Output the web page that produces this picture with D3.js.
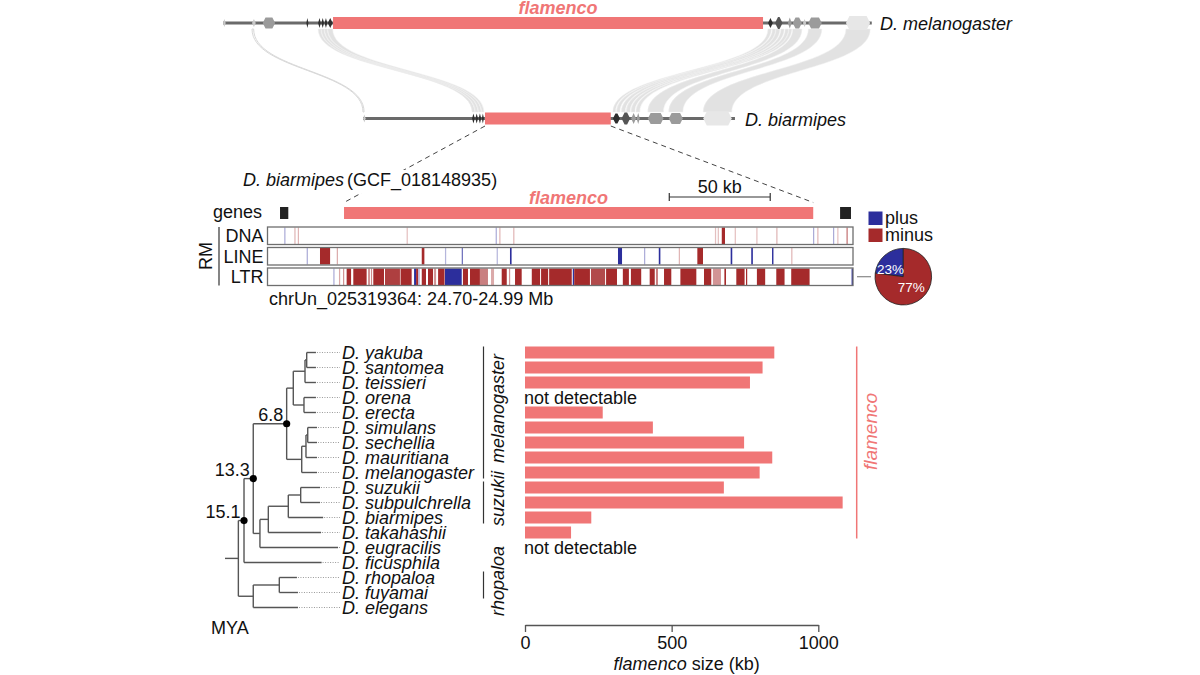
<!DOCTYPE html>
<html><head><meta charset="utf-8">
<script src="https://cdn.jsdelivr.net/npm/d3@7"></script>
<style>
body{margin:0;background:#fff}
svg{display:block}
text{font-family:"Liberation Sans",Arial,Helvetica,sans-serif;fill:#111}
</style>
</head><body>
<svg id="c" width="1200" height="675"></svg>
<script>
// ---------------- DATA ----------------
// Synteny panel (kb along each locus)
const melLen = 1207, biaLen = 692;
const melFlam = [204.7, 1004.7];
const biaFlam = [227, 461];
const melGenes = [[0,5,"light"],[54,61,"light"],[74,97,"mid"],[155,159,"dark"],
  [177,182,"dark"],[183,188,"dark"],[189,194,"dark"],[195,204,"dark"],
  [1014,1023,"dark"],[1027,1041,"dark2"],[1051,1058,"mid"],[1060,1077,"mid"],
  [1079,1085,"light"],[1089,1114,"mid"],[1159,1204,"pale"]];
const biaGenes = [[0,5,"light"],[203,208,"dark"],[209,214,"dark"],[215,220,"dark"],[221,225,"dark"],
  [465,478,"dark"],[481,497,"dark2"],[499,508,"mid"],[509,515,"mid"],
  [530,559,"mid"],[569,595,"mid"],[633,686,"pale"]];
// links: [mel start, mel end, bia start, bia end]
const synLinks = [[54,57,0,2],
  [177,182,203,208],[183,188,209,214],[189,194,215,220],[195,204,221,225],
  [1014,1020,465,470],[1022,1028,472,478],[1029,1036,481,488],[1038,1044,490,497],
  [1046,1052,499,506],[1053,1058,508,515],[1060,1077,530,559],[1089,1114,569,595],[1159,1204,633,686]];

// RepeatMasker panel (kb from 24.70 Mb)
const rmLen = 290;
const rmGenes = [[6.2,10.3],[283.6,289.0]];
const rmFlam = [37.9, 270.3];
const scaleBarStart = 199, scaleBarKb = 50;
// [start, end, strand, score]
const dnaHits = [[8.3,8.9,"+",0.4],[13.3,13.9,"-",0.35],[15.0,15.6,"-",0.35],[68.9,69.5,"-",0.3],
  [113.0,113.6,"+",0.4],[114.8,115.4,"-",0.35],[121.7,122.3,"-",0.35],[221.6,222.2,"-",0.3],
  [223.0,223.6,"-",0.3],[225.0,226.6,"-",1],[231.4,232.0,"-",0.3],[242.1,242.7,"-",0.3],
  [252.0,252.6,"-",0.35],[270.2,270.8,"+",0.4],[272.3,272.9,"-",0.35],[280.1,280.7,"+",0.4],
  [282.2,282.8,"-",0.3],[286.7,287.5,"-",0.5]];
const lineHits = [[19.4,20.0,"+",0.4],[26.0,31.0,"-",1],[34.3,34.9,"-",0.4],[76.4,77.7,"-",1],
  [87.9,88.5,"+",0.35],[96.2,96.8,"+",0.7],[113.5,114.1,"+",0.35],[120.1,120.9,"+",1],
  [173.6,175.6,"+",1],[186.5,187.1,"+",0.4],[193.8,194.6,"+",1],[203.7,204.3,"-",0.35],
  [212.9,215.7,"-",1],[229.4,230.2,"+",1],[239.6,240.4,"+",1],[249.9,250.6,"+",1],[259.4,260.0,"-",0.35]];
const ltrHits = [[32.6,33.2,"+",0.4],[35.4,36.0,"-",0.4],[37.4,38.0,"-",0.5],[39.2,41.4,"-",1],
  [42.5,49.1,"-",1],[49.8,50.8,"-",0.5],[51.3,51.8,"-",0.6],[52.4,57.7,"-",1],[58.2,65.6,"-",0.9],
  [65.9,71.4,"-",1],[72.6,73.6,"+",1],[73.6,74.6,"-",1],[74.8,75.3,"+",0.5],[76.4,78.5,"-",1],
  [79.5,82.0,"-",1],[82.5,83.5,"-",0.5],[84.5,87.7,"-",1],[87.9,96.2,"+",1],[96.8,99.3,"-",1],
  [100.3,105.2,"-",1],[105.2,109.2,"-",0.6],[110.7,112.2,"-",0.4],[116.0,118.5,"-",1],
  [119.6,120.2,"-",0.5],[122.6,125.9,"-",1],[130.9,135.0,"-",1],[135.5,139.0,"-",1],
  [139.5,150.7,"-",1],[151.9,159.7,"-",1],[151.2,151.8,"+",1],[160.2,167.2,"-",0.85],
  [167.7,173.1,"-",1],[176.0,179.0,"-",1],[180.0,185.1,"-",1],[189.3,191.8,"-",1],
  [192.4,193.4,"-",0.6],[196.4,200.0,"-",1],[204.5,212.4,"-",1],[216.2,219.8,"-",1],
  [220.6,224.6,"-",0.5],[226.3,227.1,"-",1],[232.2,236.3,"-",1],[237.0,237.6,"-",1],
  [242.4,246.5,"-",1],[252.0,256.1,"-",1],[259.4,268.5,"-",1],[289.3,290.0,"+",1]];
const strandNames = ["plus","minus"];
const ltrStrandPct = [23, 77];

// Phylogeny
const species = ["D. yakuba","D. santomea","D. teissieri","D. orena","D. erecta","D. simulans",
  "D. sechellia","D. mauritiana","D. melanogaster","D. suzukii","D. subpulchrella","D. biarmipes",
  "D. takahashii","D. eugracilis","D. ficusphila","D. rhopaloa","D. fuyamai","D. elegans"];
// [id, parent, age (MYA)]
const internalNodes = [["root","",16.2],["n15.1","root",15.1],["n13.3","n15.1",13.3],["n6.8","n13.3",6.8],
  ["yakGrp","n6.8",5.51],["yst","yakGrp",3.23],["ys","yst",2.9],["oe","yakGrp",3.43],
  ["melGrp","n6.8",3.87],["ssm","melGrp",3.04],["ss","ssm",2.7],
  ["suzEug","n13.3",12.0],["suzTak","suzEug",10.37],["suzBia","suzTak",6.48],["suzSub","suzBia",4.07],
  ["rhoGrp","root",13.3],["rf","rhoGrp",8.23]];
const tipParent = ["ys","ys","yst","oe","oe","ss","ss","ssm","melGrp","suzSub","suzSub","suzBia",
  "suzTak","suzEug","n15.1","rf","rf","rhoGrp"];
const tipAge = [1.1,1.1,1.1,1.1,1.1,0.9,0.9,0.9,0.9,0.3,0.3,-0.3,0.1,-3.2,0,4.8,4.6,4.6];
const rootStemAge = 18.8;
const labeledNodes = ["n6.8","n13.3","n15.1"];
const clades = [["melanogaster","D. yakuba","D. melanogaster"],["suzukii","D. suzukii","D. biarmipes"],
  ["rhopaloa","D. rhopaloa","D. fuyamai"]];

// flamenco sizes (kb); null = no bar
const flamSize = [850,810,767,null,265,436,747,843,800,678,1083,226,157,null,null,null,null,null];
const notDetectable = ["D. orena","D. eugracilis"];
const sizeTicks = [0,500,1000];

// ---------------- DRAW ----------------
const SAL = "#f07676", BLUE = "#2c2e9c", RED = "#a52a2b";
const svg = d3.select("#c");
svg.append("rect").attr("width",1200).attr("height",675).attr("fill","#fff");

// ---- synteny ----
const K = 0.5375;
const melX = d3.scaleLinear().domain([0,melLen]).range([223,223+melLen*K]);
const biaX = d3.scaleLinear().domain([0,biaLen]).range([363,363+biaLen*K]);
const yMel = 23, yBia = 118.5, yT = 29, yB = 112, yM = (yT+yB)/2;
const gSyn = svg.append("g");
gSyn.selectAll("path.link").data(synLinks).join("path")
  .attr("d", d => `M${melX(d[0])},${yT} C${melX(d[0])},${yM} ${biaX(d[2])},${yM} ${biaX(d[2])},${yB}
     L${biaX(d[3])},${yB} C${biaX(d[3])},${yM} ${melX(d[1])},${yM} ${melX(d[1])},${yT} Z`)
  .attr("fill", (d,i) => i===0 ? "none" : "#cfcfcf")
  .attr("fill-opacity", 0.6)
  .attr("stroke", (d,i) => i===0 ? "#d8d8d8" : "#eeeeee")
  .attr("stroke-width", (d,i)=> i===0?1:0.5);
const toneCol = {dark:"#2e2e2e", dark2:"#555", mid:"#9b9b9b", light:"#c9c9c9", pale:"#e7e7e7"};
const toneH = {dark:10, dark2:12, mid:11, light:8, pale:14};
function hexPath(x0,x1,yc,h){
  const c = Math.min(h/4,(x1-x0)/2);
  return `M${x0},${yc} L${x0+c},${yc-h/2} L${x1-c},${yc-h/2} L${x1},${yc} L${x1-c},${yc+h/2} L${x0+c},${yc+h/2} Z`;
}
function drawLocus(sc, len, yc, genes, flam){
  gSyn.append("line").attr("x1",sc(0)).attr("x2",sc(len)).attr("y1",yc).attr("y2",yc)
    .attr("stroke","#6a6a6a").attr("stroke-width",3);
  gSyn.append("g").selectAll("path").data(genes).join("path")
    .attr("d", d => hexPath(sc(d[0]), sc(d[1]), yc, toneH[d[2]]))
    .attr("fill", d => toneCol[d[2]]);
  gSyn.append("rect").attr("x",sc(flam[0])).attr("width",sc(flam[1])-sc(flam[0]))
    .attr("y",yc-6).attr("height",12).attr("fill",SAL);
}
drawLocus(melX, melLen, yMel, melGenes, melFlam);
drawLocus(biaX, biaLen, yBia, biaGenes, biaFlam);
gSyn.append("text").attr("x",(melX(melFlam[0])+melX(melFlam[1]))/2+10).attr("y",14)
  .attr("text-anchor","middle").style("font-size","18px").style("font-weight","bold")
  .style("font-style","italic").style("fill",SAL).text("flamenco");
gSyn.append("text").attr("x",880).attr("y",29.5).style("font-size","18px").style("font-style","italic").text("D. melanogaster");
gSyn.append("text").attr("x",745).attr("y",125.5).style("font-size","18px").style("font-style","italic").text("D. biarmipes");

// ---- RM panel ----
const rmX = d3.scaleLinear().domain([0,rmLen]).range([267.5,853]);
const gRM = svg.append("g");
// dashed zoom lines
[[biaFlam[0], rmFlam[0]],[biaFlam[1], rmFlam[1]]].forEach(p => {
  gRM.append("line").attr("x1",biaX(p[0])).attr("y1",126).attr("x2",rmX(p[1])).attr("y2",202.5)
    .attr("stroke","#444").attr("stroke-width",1).attr("stroke-dasharray","5,4");
});
const t0 = gRM.append("text").attr("x",243).attr("y",186).style("font-size","18px");
t0.append("tspan").style("font-style","italic").text("D. biarmipes");
t0.append("tspan").attr("dx",3).text("(GCF_018148935)");
const tb = t0.node().getBBox();
gRM.insert("rect", "text").attr("x",tb.x-2).attr("y",tb.y).attr("width",tb.width+4).attr("height",tb.height+2).attr("fill","#fff");
// scale bar
const sb0 = rmX(scaleBarStart), sb1 = rmX(scaleBarStart+scaleBarKb);
gRM.append("path").attr("d",`M${sb0},193 V201 M${sb0},197 H${sb1} M${sb1},193 V201`)
  .attr("stroke","#333").attr("stroke-width",1.2).attr("fill","none");
gRM.append("text").attr("x",(sb0+sb1)/2).attr("y",193).attr("text-anchor","middle").style("font-size","18px").text(scaleBarKb+" kb");
gRM.append("text").attr("x",(rmX(rmFlam[0])+rmX(rmFlam[1]))/2-10).attr("y",203.5).attr("text-anchor","middle")
  .style("font-size","18px").style("font-weight","bold").style("font-style","italic").style("fill",SAL).text("flamenco");
// genes row
gRM.append("text").attr("x",262).attr("y",217.5).attr("text-anchor","end").style("font-size","18px").text("genes");
gRM.selectAll("rect.gene").data(rmGenes).join("rect").attr("class","gene")
  .attr("x",d=>rmX(d[0])).attr("width",d=>rmX(d[1])-rmX(d[0])).attr("y",207).attr("height",12).attr("fill","#222");
gRM.append("rect").attr("x",rmX(rmFlam[0])).attr("width",rmX(rmFlam[1])-rmX(rmFlam[0]))
  .attr("y",207).attr("height",12).attr("fill",SAL);
// tracks
const tracks = [["DNA",dnaHits,227],["LINE",lineHits,247.5],["LTR",ltrHits,268]];
const trackH = 17.5;
tracks.forEach(([name,hits,y0]) => {
  const g = gRM.append("g");
  g.append("rect").attr("x",rmX(0)).attr("y",y0).attr("width",rmX(rmLen)-rmX(0)).attr("height",trackH)
    .attr("fill","#fff");
  g.selectAll("rect.hit").data(hits).join("rect").attr("class","hit")
    .attr("x",d=>rmX(d[0])).attr("width",d=>Math.max(1,rmX(d[1])-rmX(d[0])))
    .attr("y",y0+0.5).attr("height",trackH-1)
    .attr("fill",d=>d[2]==="+"?BLUE:RED).attr("fill-opacity",d=>d[3]);
  g.append("rect").attr("x",rmX(0)).attr("y",y0).attr("width",rmX(rmLen)-rmX(0)).attr("height",trackH)
    .attr("fill","none").attr("stroke","#6e6e6e").attr("stroke-width",1.3);
  g.append("text").attr("x",263.5).attr("y",y0+trackH/2+6.5).attr("text-anchor","end").style("font-size","18px").text(name);
});
gRM.append("line").attr("x1",219).attr("x2",219).attr("y1",227).attr("y2",285.5).attr("stroke","#333").attr("stroke-width",1.2);
gRM.append("text").attr("transform","translate(212,256) rotate(-90)").attr("text-anchor","middle").style("font-size","18px").text("RM");
gRM.append("text").attr("x",269).attr("y",305).style("font-size","18px").text("chrUn_025319364: 24.70-24.99 Mb");
// legend
strandNames.forEach((s,i) => {
  gRM.append("rect").attr("x",868.5).attr("y",211.5+i*17).attr("width",14).attr("height",13.5).attr("fill",i===0?BLUE:RED);
  gRM.append("text").attr("x",885).attr("y",224+i*17).style("font-size","18px").text(s);
});
// pie
const pc = [903.3,276.7], pr = 28.3;
gRM.append("line").attr("x1",857).attr("x2",871).attr("y1",pc[1]).attr("y2",pc[1]).attr("stroke","#888").attr("stroke-width",1.2);
const pie = d3.pie()(ltrStrandPct);
const arc = d3.arc().innerRadius(0).outerRadius(pr);
const gp = gRM.append("g").attr("transform",`translate(${pc[0]},${pc[1]})`);
gp.selectAll("path").data(pie).join("path").attr("d",arc)
  .attr("fill",(d,i)=>i===0?BLUE:RED).attr("stroke","#222").attr("stroke-width",0.8);
const labArc = d3.arc().innerRadius(15).outerRadius(15);
gp.selectAll("text").data(pie).join("text")
  .attr("x",(d,i)=>labArc.centroid(d)[0] + (i===0?-3:-2))
  .attr("y",(d,i)=>labArc.centroid(d)[1] + (i===0?9:4))
  .attr("text-anchor","middle").style("font-size","13.5px").style("fill","#fff")
  .text(d=>d.data+"%");

// ---- phylogeny ----
const yBand = d3.scaleBand().domain(species).range([345,615]).paddingInner(0.2).paddingOuter(0.1);
const bw = yBand.bandwidth();
const rowsTbl = internalNodes.map(d=>({id:d[0],parent:d[1]||null,age:d[2]}))
  .concat(species.map((s,i)=>({id:s,parent:tipParent[i],age:tipAge[i],tip:true})));
const root = d3.stratify().id(d=>d.id).parentId(d=>d.parent)(rowsTbl);
const treeX = d3.scaleLinear().domain([0,rootStemAge]).range([321.6,225]);
root.eachAfter(n => {
  n.px = treeX(n.data.age);
  n.py = n.children ? d3.mean(n.children, c=>c.py) : yBand(n.id)+bw/2;
});
const gT = svg.append("g");
const TC = "#555";
root.descendants().forEach(n => {
  if (n.parent) gT.append("line").attr("x1",n.parent.px).attr("x2",n.px).attr("y1",n.py).attr("y2",n.py)
    .attr("stroke",TC).attr("stroke-width",1.4);
  if (n.children) {
    const ys = n.children.map(c=>c.py);
    gT.append("line").attr("x1",n.px).attr("x2",n.px).attr("y1",d3.min(ys)).attr("y2",d3.max(ys))
      .attr("stroke",TC).attr("stroke-width",1.4);
  }
});
gT.append("line").attr("x1",treeX(rootStemAge)).attr("x2",root.px).attr("y1",root.py).attr("y2",root.py)
  .attr("stroke",TC).attr("stroke-width",1.4);
root.leaves().forEach(n => {
  if (n.px < 339) gT.append("line").attr("x1",n.px+1).attr("x2",340).attr("y1",n.py).attr("y2",n.py)
    .attr("stroke","#9a9a9a").attr("stroke-width",1).attr("stroke-dasharray","1,1.5");
});
gT.selectAll("text.sp").data(species).join("text").attr("class","sp")
  .attr("x",342).attr("y",d=>yBand(d)+bw/2+6.5).style("font-size","18px").style("font-style","italic").text(d=>d);
root.descendants().filter(n=>labeledNodes.includes(n.id)).forEach(n => {
  gT.append("circle").attr("cx",n.px).attr("cy",n.py).attr("r",3.6).attr("fill","#000");
  gT.append("text").attr("x",n.px-3.5).attr("y",n.py-2.5).attr("text-anchor","end").style("font-size","18px").text(n.data.age);
});
gT.append("text").attr("x",211).attr("y",633.5).style("font-size","18px").text("MYA");
// clade bars
clades.forEach(([name,a,b]) => {
  const y0 = yBand(a), y1 = yBand(b)+bw;
  gT.append("line").attr("x1",483.5).attr("x2",483.5).attr("y1",y0).attr("y2",y1).attr("stroke","#333").attr("stroke-width",1.2);
  gT.append("text").attr("transform",`translate(503.5,${(y0+y1)/2-4}) rotate(-90)`).attr("text-anchor","middle")
    .style("font-size","18px").style("font-style","italic").text(name);
});

// ---- bar chart ----
const xS = d3.scaleLinear().domain([0,1000]).range([525,818.3]);
const gB = svg.append("g");
gB.selectAll("rect.bar").data(species.map((s,i)=>({s,v:flamSize[i]})).filter(d=>d.v!=null)).join("rect")
  .attr("class","bar").attr("x",xS(0)).attr("y",d=>yBand(d.s)).attr("height",bw)
  .attr("width",d=>xS(d.v)-xS(0)).attr("fill",SAL);
gB.selectAll("text.nd").data(notDetectable).join("text").attr("class","nd")
  .attr("x",xS(0)-1).attr("y",d=>yBand(d)+bw/2+6.5).style("font-size","18px").text("not detectable");
const ax = gB.append("g").attr("transform","translate(0,625)")
  .call(d3.axisBottom(xS).tickValues(sizeTicks).tickFormat(d3.format("d")).tickSize(7).tickSizeOuter(0).tickPadding(4));
ax.select(".domain").attr("stroke","#555").attr("stroke-width",1.3);
ax.selectAll(".tick line").attr("stroke","#555").attr("stroke-width",1.3);
ax.selectAll(".tick text").style("font-size","18px").style("font-family","'Liberation Sans',Arial,sans-serif").attr("fill","#111");
const at = gB.append("text").attr("x",(xS(0)+xS(1000))/2+15).attr("y",670).attr("text-anchor","middle").style("font-size","18px");
at.append("tspan").style("font-style","italic").text("flamenco");
at.append("tspan").text(" size (kb)");
// flamenco bracket
const fb0 = yBand("D. yakuba"), fb1 = yBand("D. takahashii")+bw;
gB.append("line").attr("x1",856.7).attr("x2",856.7).attr("y1",fb0).attr("y2",fb1).attr("stroke",SAL).attr("stroke-width",1.5);
gB.append("text").attr("transform",`translate(877,${(fb0+fb1)/2-11}) rotate(-90)`).attr("text-anchor","middle")
  .style("font-size","19px").style("font-style","italic").style("fill",SAL).text("flamenco");
</script>
</body></html>
